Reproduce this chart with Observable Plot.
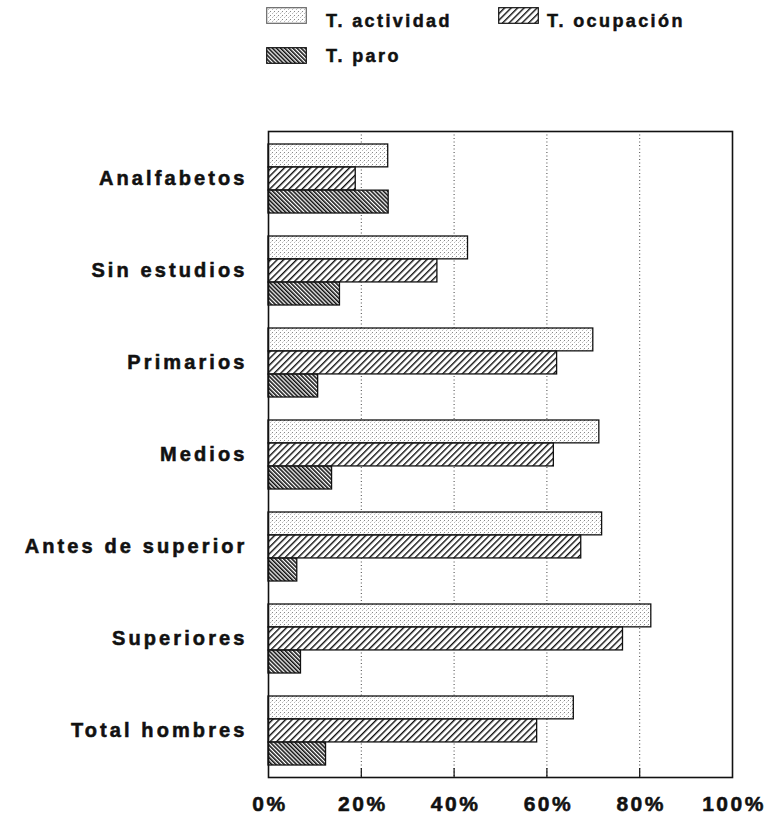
<!DOCTYPE html>
<html>
<head>
<meta charset="utf-8">
<script src="https://cdn.jsdelivr.net/npm/d3@7"></script>
<script src="https://cdn.jsdelivr.net/npm/@observablehq/plot@0.6"></script>
<style>
  html, body { margin: 0; padding: 0; background: #fff; }
  #wrap { width: 774px; position: relative; font-family: "Liberation Sans", Arial, sans-serif; font-weight: bold; }
  #legend { position: relative; height: 100px; }
  .sw { position: absolute; }
  .lt { position: absolute; font-size: 18px; letter-spacing: 2.4px; line-height: 1; color: #111; white-space: nowrap; font-weight: bold; -webkit-text-stroke: 0.5px #111; }
  #chart svg text { stroke: #111; stroke-width: 0.55px; }
</style>
</head>
<body>
<svg width="0" height="0" style="position:absolute">
  <defs>
    <pattern id="pAct" width="4" height="4" patternUnits="userSpaceOnUse">
      <rect width="4" height="4" fill="#fff"/>
      <rect x="0" y="0" width="1" height="1" fill="#888"/>
      <rect x="2" y="2" width="1" height="1" fill="#bbb"/>
      <rect x="3" y="1" width="1" height="1" fill="#ddd"/>
    </pattern>
    <pattern id="pOcu" width="4.6" height="4.6" patternUnits="userSpaceOnUse" patternTransform="rotate(45)">
      <rect width="4.6" height="4.6" fill="#fff"/>
      <line x1="0.7" y1="0" x2="0.7" y2="4.6" stroke="#111" stroke-width="1.4"/>
    </pattern>
    <pattern id="pPar" width="2.9" height="2.9" patternUnits="userSpaceOnUse" patternTransform="rotate(-45)">
      <rect width="2.9" height="2.9" fill="#fff"/>
      <line x1="0.8" y1="0" x2="0.8" y2="2.9" stroke="#111" stroke-width="1.6"/>
    </pattern>
  </defs>
</svg>
<div id="wrap">
  <div id="legend"></div>
  <div id="chart"></div>
</div>
<script>
// ---- data ----
const categories = ["Analfabetos", "Sin estudios", "Primarios", "Medios", "Antes de superior", "Superiores", "Total hombres"];
const series = ["T. actividad", "T. ocupación", "T. paro"];
const actividad = [25.8, 43.0, 70.0, 71.3, 71.9, 82.5, 65.8];
const ocupacion = [18.8, 36.4, 62.2, 61.5, 67.4, 76.4, 57.9];
const paro = [25.9, 15.4, 10.7, 13.7, 6.2, 7.0, 12.4];
const xTicks = [0, 20, 40, 60, 80, 100];
const gridTicks = [20, 40, 60, 80];

// ---- table ----
const values = [actividad, ocupacion, paro];
const fills = ["url(#pAct)", "url(#pOcu)", "url(#pPar)"];
const rows = (i) => categories.map((c, j) => ({category: c, series: series[i], value: values[i][j]}));

// ---- layout ----
const W = 774, H = 721, mt = 31, mb = 44, ml = 268, mr = 42;
const innerH = H - mt - mb;
const step = innerH / (categories.length - 0.25 + 0.25);
const third = step * 0.75 / 3;

const barOpts = (i) => ({
  x: "value", y: "category", fill: fills[i], stroke: "#111", strokeWidth: 1.3,
  insetTop: third * i, insetBottom: third * (2 - i)
});

const chart = Plot.plot({
  width: W, height: H,
  marginTop: mt, marginBottom: mb, marginLeft: ml, marginRight: mr,
  style: {fontFamily: "'Liberation Sans', Arial, sans-serif", fontWeight: "bold", color: "#111", background: "#fff"},
  x: {domain: [0, 100]},
  y: {domain: categories, paddingInner: 0.25, paddingOuter: 0.125, align: 0.5},
  marks: [
    Plot.gridX(gridTicks, {stroke: "#444", strokeOpacity: 1, strokeDasharray: "1,2.5", strokeWidth: 1}),
    Plot.barX(rows(0), barOpts(0)),
    Plot.barX(rows(1), barOpts(1)),
    Plot.barX(rows(2), barOpts(2)),
    Plot.gridX(gridTicks, {stroke: "#111", strokeOpacity: 1, strokeWidth: 1.2, insetTop: innerH - 9}),
    Plot.frame({stroke: "#111", strokeWidth: 1.6}),
    Plot.axisX({ticks: xTicks, tickFormat: d => d + "%", tickSize: 0, tickPadding: 19, fontSize: 21, dx: 1.5, label: null}),
    Plot.axisY({tickSize: 0, tickPadding: 21, fontSize: 20, label: null})
  ]
});
document.getElementById("chart").appendChild(chart);
chart.querySelectorAll("g[aria-label='x-axis tick label'] text").forEach(t => t.style.letterSpacing = "2.5px");
chart.querySelectorAll("g[aria-label='y-axis tick label'] text").forEach(t => t.style.letterSpacing = "3.1px");

// ---- legend ----
const legendPos = [
  {sx: 266, sy: 7, tx: 326, ty: 12},
  {sx: 498, sy: 7, tx: 547, ty: 12},
  {sx: 266, sy: 47, tx: 326, ty: 47}
];
const legend = document.getElementById("legend");
series.forEach((s, i) => {
  const p = legendPos[i];
  const sw = document.createElementNS("http://www.w3.org/2000/svg", "svg");
  sw.setAttribute("class", "sw");
  sw.setAttribute("width", 41); sw.setAttribute("height", 17);
  sw.style.left = p.sx + "px"; sw.style.top = p.sy + "px";
  const r = document.createElementNS("http://www.w3.org/2000/svg", "rect");
  r.setAttribute("x", 0.7); r.setAttribute("y", 0.7); r.setAttribute("width", 39.6); r.setAttribute("height", 15.6);
  r.setAttribute("fill", fills[i]); r.setAttribute("stroke", i === 0 ? "#666" : "#111"); r.setAttribute("stroke-width", 1.2);
  sw.appendChild(r);
  legend.appendChild(sw);
  const t = document.createElement("div");
  t.className = "lt";
  t.textContent = s;
  t.style.left = p.tx + "px"; t.style.top = p.ty + "px";
  legend.appendChild(t);
});
</script>
</body>
</html>
